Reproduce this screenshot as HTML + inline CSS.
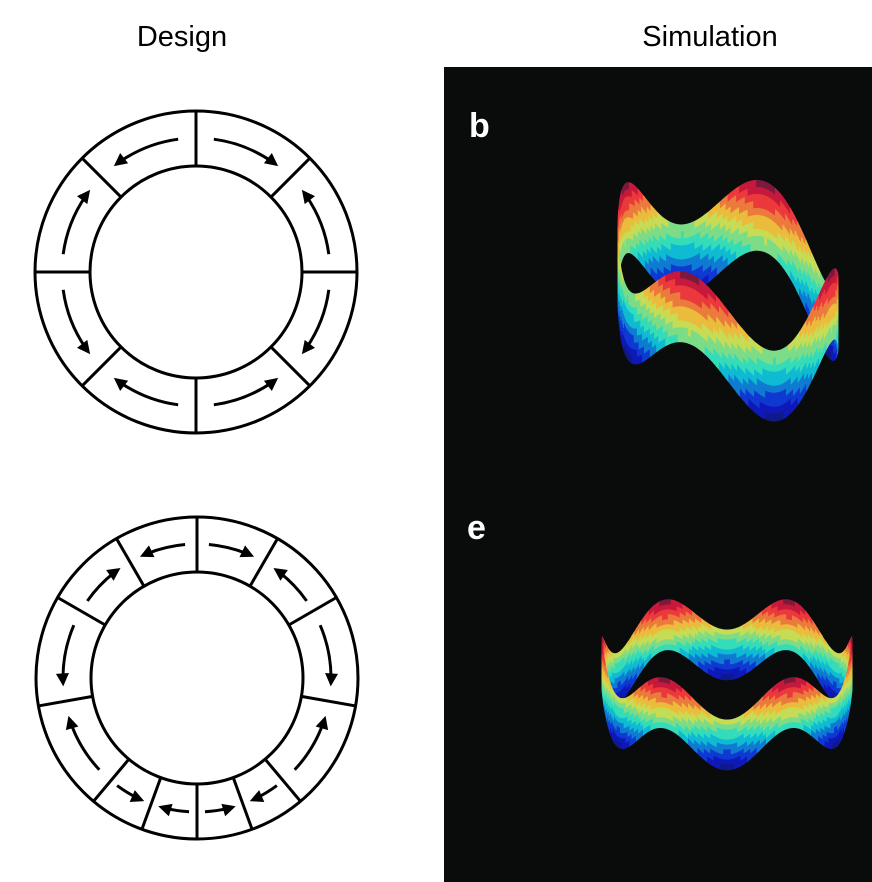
<!DOCTYPE html>
<html><head><meta charset="utf-8"><style>
html,body{margin:0;padding:0;background:#fff;}
svg{display:block;}
text{font-family:"Liberation Sans",Arial,sans-serif;}
</style></head><body>
<svg id="fig" width="872" height="882" viewBox="0 0 872 882" xmlns="http://www.w3.org/2000/svg">
<text x="182" y="46" font-size="29" text-anchor="middle" fill="#000">Design</text>
<text x="710" y="46" font-size="29" text-anchor="middle" fill="#000">Simulation</text>
<rect x="444" y="67" width="428" height="815" fill="#0a0b0b"/>
<text x="469" y="137" font-size="34" font-weight="bold" fill="#fff">b</text>
<text x="467" y="539" font-size="34" font-weight="bold" fill="#fff">e</text>
<g id="rings"></g>
<g id="ribbons"></g>
</svg>
<script>
// Design ring data: divider angles (deg clockwise from top) and arrow direction per segment (+1 clockwise, -1 counter-clockwise)
const topDividers = [0,45,90,135,180,225,270,315];
const topDirs = [1,-1,1,-1,1,-1,1,-1];
const botDividers = [0,30,60,100,140,160,180,200,220,260,300,330];
const botDirs = [1,-1,1,-1,1,-1,1,-1,1,-1,1,-1];

const NS='http://www.w3.org/2000/svg';
const rings=document.getElementById('rings');
function mk(tag,attrs,parent){const e=document.createElementNS(NS,tag);for(const k in attrs)e.setAttribute(k,attrs[k]);parent.appendChild(e);return e;}
function pt(cx,cy,r,a){const t=a*Math.PI/180;return [cx+r*Math.sin(t),cy-r*Math.cos(t)];}

function drawRing(cx,cy,dividers,dirs,name){
  const g=mk('g',{},rings);
  
  
  const rO=161,rI=106,rA=134;
  const oc=mk('circle',{cx:cx,cy:cy,r:rO,fill:'none',stroke:'#000','stroke-width':3},g);
  
  
  const ic=mk('circle',{cx:cx,cy:cy,r:rI,fill:'none',stroke:'#000','stroke-width':3},g);
  
  
  for(let i=0;i<dividers.length;i++){
    const a=dividers[i];
    const p1=pt(cx,cy,rI,a),p2=pt(cx,cy,rO,a);
    const l=mk('line',{x1:p1[0],y1:p1[1],x2:p2[0],y2:p2[1],stroke:'#000','stroke-width':3},g);
    
    
    const b=(i+1<dividers.length)?dividers[i+1]:360;
    const span=b-a;
    let s,e;
    if(dirs[i]>0){s=a+span*0.17;e=a+span*0.84;}else{s=b-span*0.17;e=b-span*0.84;}
    const p0=pt(cx,cy,rA,s);
    const dirSign=dirs[i];
    const headLen=13;
    const eArc=e-dirSign*(headLen*0.6/rA*180/Math.PI);
    const pe=pt(cx,cy,rA,eArc);
    const sweep=dirSign>0?1:0;
    const path=mk('path',{d:`M${p0[0]},${p0[1]} A${rA},${rA} 0 0 ${sweep} ${pe[0]},${pe[1]}`,fill:'none',stroke:'#000','stroke-width':3},g);
    
    
    const tip=pt(cx,cy,rA,e);
    const t=e*Math.PI/180;
    const tx=Math.cos(t)*dirSign, ty=Math.sin(t)*dirSign;
    const nx=-ty, ny=tx;
    const bx=tip[0]-tx*headLen, by=tip[1]-ty*headLen;
    const head=mk('polygon',{points:`${tip[0]},${tip[1]} ${bx+nx*6.5},${by+ny*6.5} ${bx-nx*6.5},${by-ny*6.5}`,fill:'#000'},g);
    
    
  }
}
drawRing(196,272,topDividers,topDirs,'design-ring-top');
drawRing(197,678,botDividers,botDirs,'design-ring-bottom');

// Ribbon simulations
function jet(v){v=Math.max(0,Math.min(1,v));
  const r=Math.max(0,Math.min(1,1.5-Math.abs(4*v-3)));
  const g=Math.max(0,Math.min(1,1.5-Math.abs(4*v-2)));
  const b=Math.max(0,Math.min(1,1.5-Math.abs(4*v-1)));
  return `rgb(${Math.round(r*220+15)},${Math.round(g*195+25)},${Math.round(b*150+60)})`;}
const ribbons=document.getElementById('ribbons');
function ribbon(p,name){
  const g=mk('g',{},ribbons);
  
  
  const N=240,L=10,quads=[];
  const zmin=-p.A-p.H,zmax=p.A;
  function P(th,z){return [p.cx+p.a*Math.cos(th), p.cy+p.b*Math.sin(th)+p.tilt*Math.cos(th)-z];}
  for(let i=0;i<N;i++){
    const t1=i/N*2*Math.PI,t2=(i+1)/N*2*Math.PI;
    const z1=p.A*Math.cos(p.k*t1+p.ph),z2=p.A*Math.cos(p.k*t2+p.ph);
    for(let j=0;j<L;j++){
      const u0=j/L,u1=(j+1)/L;
      const a=P(t1,z1-p.H*u0),b=P(t2,z2-p.H*u0),c=P(t2,z2-p.H*u1),d=P(t1,z1-p.H*u1);
      const zm=(z1+z2)/2-p.H*(u0+u1)/2;
      let v=(zm-zmin)/(zmax-zmin);
      v=Math.round(v*12)/12;
      quads.push({depth:Math.sin((t1+t2)/2),pts:[a,b,c,d],col:jet(v)});
    }
  }
  quads.sort((x,y)=>x.depth-y.depth);
  for(const q of quads){
    const poly=mk('polygon',{points:q.pts.map(s=>s[0].toFixed(1)+','+s[1].toFixed(1)).join(' '),fill:q.col,stroke:q.col,'stroke-width':0.8},g);
    
    
  }
}
ribbon({cx:728,cy:258,a:110,b:58,tilt:25,A:30,H:70,k:4,ph:-1.4},'simulation-ribbon-b');
ribbon({cx:727,cy:657,a:125,b:45,tilt:0,A:18,H:50,k:6,ph:0},'simulation-ribbon-e');
</script>
</body></html>
